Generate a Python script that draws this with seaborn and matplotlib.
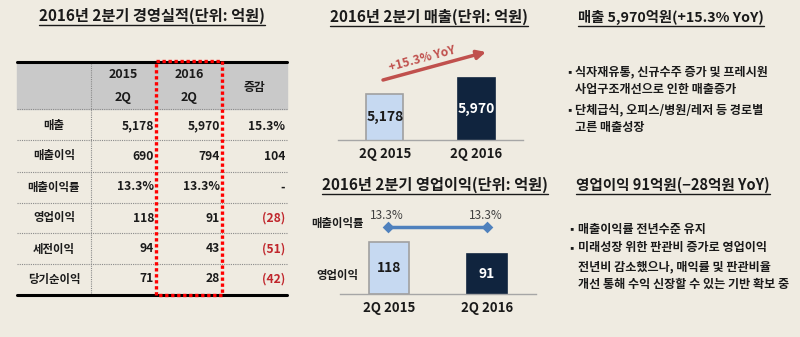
import matplotlib
matplotlib.use('Agg')
import matplotlib.pyplot as plt
from matplotlib.patches import Rectangle
import seaborn as sns
import pandas as pd

sns.set_theme(style='white')
plt.rcParams['font.family'] = ['Noto Sans CJK KR', 'DejaVu Sans']

# ---------------- data ----------------
periods = ['2Q 2015', '2Q 2016']
sales = [5178, 5970]
op_profit = [118, 91]
gross_margin = [13.3, 13.3]
sales_growth = '+15.3% YoY'

table_header = ['2015\n2Q', '2016\n2Q', '증감']
row_labels = ['매출', '매출이익', '매출이익률', '영업이익', '세전이익', '당기순이익']
col_2015 = ['5,178', '690', '13.3%', '118', '94', '71']
col_2016 = ['5,970', '794', '13.3%', '91', '43', '28']
col_change = ['15.3%', '104', '-', '(28)', '(51)', '(42)']

titles = ['2016년 2분기 경영실적(단위: 억원)', '2016년 2분기 매출(단위: 억원)',
          '2016년 2분기 영업이익(단위: 억원)', '매출 5,970억원(+15.3% YoY)',
          '영업이익 91억원(−28억원 YoY)']
bullets_sales = [['식자재유통, 신규수주 증가 및 프레시원', '사업구조개선으로 인한 매출증가'],
                 ['단체급식, 오피스/병원/레저 등 경로별', '고른 매출성장']]
bullets_op = [['매출이익률 전년수준 유지'],
              ['미래성장 위한 판관비 증가로 영업이익', '전년비 감소했으나, 매익률 및 판관비율',
               '개선 통해 수익 신장할 수 있는 기반 확보 중']]

# ---------------- style ----------------
BG = '#EFEBE1'
LIGHT = '#C6D9F1'
DARK = '#10243E'
RED = '#C0504D'
DRED = '#C0262C'
BLUE = '#4F81BD'
TXT = '#1A1A1A'
W, H = 800, 337

fig = plt.figure(figsize=(8, 3.37), dpi=100, facecolor=BG)
bg = fig.add_axes([0, 0, 1, 1], zorder=0)
bg.set_xlim(0, W)
bg.set_ylim(H, 0)
bg.axis('off')


def fax(x0, y0, x1, y1):
    a = fig.add_axes([x0 / W, 1 - y1 / H, (x1 - x0) / W, (y1 - y0) / H], zorder=2)
    a.set_facecolor('none')
    return a


# ---------------- titles ----------------
title_pos = [(152, 16), (429, 17), (435, 185), (671, 17), (673, 185)]
title_size = [11, 11, 11, 10.3, 10.5]
title_objs = []
for s, (x, y), fs in zip(titles, title_pos, title_size):
    t = bg.text(x, y, s, ha='center', va='center', fontsize=fs, weight='bold', color=TXT)
    title_objs.append((t, y))

# ---------------- table ----------------
tx0, tx1 = 17, 287
bg.add_patch(Rectangle((tx0, 62), tx1 - tx0, 47, color='#C9C9C9', zorder=1))
bg.plot([tx0, tx1], [62, 62], color='black', lw=2.2, zorder=3)
bg.plot([tx0, tx1], [295, 295], color='black', lw=2.2, zorder=3)
for yy in [109, 140, 172, 203, 233, 264]:
    bg.plot([tx0, tx1], [yy, yy], color='#8A8A8A', lw=0.8, ls=(0, (1, 1)), zorder=2)
bg.plot([91, 91], [63, 294], color='#8A8A8A', lw=0.8, ls=(0, (1, 1)), zorder=2)

bg.text(123, 86, table_header[0], ha='center', va='center', fontsize=9, weight='bold',
        color=TXT, linespacing=2.0, zorder=4)
bg.text(189, 86, table_header[1], ha='center', va='center', fontsize=9, weight='bold',
        color=TXT, linespacing=2.0, zorder=4)
bg.text(254, 87, table_header[2], ha='center', va='center', fontsize=8.5, weight='bold',
        color=TXT, zorder=4)

row_y = [126, 156, 187, 218, 249, 279]
for lab, a, b, c, y in zip(row_labels, col_2015, col_2016, col_change, row_y):
    bg.text(54, y, lab, ha='center', va='center', fontsize=8.2, weight='bold', color=TXT, zorder=4)
    bg.text(154, y, a, ha='right', va='center', fontsize=8.7, weight='bold', color=TXT, zorder=4)
    bg.text(220, y, b, ha='right', va='center', fontsize=8.7, weight='bold', color=TXT, zorder=4)
    col = DRED if c.startswith('(') else TXT
    bg.text(285, y, c, ha='right', va='center', fontsize=8.7, weight='bold', color=col, zorder=4)

bg.add_patch(Rectangle((155.5, 61), 66.5, 234, fill=False, edgecolor='#FF0000', lw=2.4,
                       ls=(0, (1, 0.8)), zorder=5))

# ---------------- sales chart ----------------
ax_s = fax(338, 70, 523, 140)
df_s = pd.DataFrame({'period': periods, 'sales': sales})
sns.barplot(data=df_s, x='period', y='sales', hue='period', palette=[LIGHT, DARK],
            width=0.41, saturation=1, legend=False, ax=ax_s)
for p, ec in zip(ax_s.patches, ['#A0A0A0', DARK]):
    p.set_edgecolor(ec)
    p.set_linewidth(1.2)
s_lo = 2900
ax_s.set_ylim(s_lo, s_lo + 70 * (5970 - s_lo) / 62)
ax_s.set_xlim(-0.51, 1.51)
for i, (v, c) in enumerate(zip(sales, [TXT, 'white'])):
    ax_s.text(i, (s_lo + v) / 2, f'{v:,}', ha='center', va='center', fontsize=10,
              weight='bold', color=c)

# ---------------- operating profit chart ----------------
ax_o = fax(340, 234, 536, 294)
df_o = pd.DataFrame({'period': periods, 'op': op_profit})
sns.barplot(data=df_o, x='period', y='op', hue='period', palette=[LIGHT, DARK],
            width=0.4, saturation=1, legend=False, ax=ax_o)
for p, ec in zip(ax_o.patches, ['#A0A0A0', DARK]):
    p.set_edgecolor(ec)
    p.set_linewidth(1.2)
ax_o.set_ylim(0, 60 * 118 / 52.5)
ax_o.set_xlim(-0.49, 1.5)
for i, (v, c) in enumerate(zip(op_profit, [TXT, 'white'])):
    ax_o.text(i, v / 2, f'{v:,}', ha='center', va='center', fontsize=10,
              weight='bold', color=c)

for a in (ax_s, ax_o):
    for sp in ['top', 'left', 'right']:
        a.spines[sp].set_visible(False)
    a.spines['bottom'].set_color('#A6A6A6')
    a.spines['bottom'].set_linewidth(1)
    a.set_xlabel('')
    a.set_ylabel('')
    a.set_yticks([])
    a.tick_params(axis='x', which='major', length=0, pad=5, labelsize=9.5, colors=TXT)
    for lab in a.get_xticklabels():
        lab.set_fontweight('bold')
    a.set_xticks([-0.5, 0.5, 1.5], minor=True)
    a.tick_params(axis='x', which='minor', length=4, width=1, color='#A6A6A6', direction='out')

# ---------------- gross margin line ----------------
ax_m = fax(340, 215, 536, 239)
sns.pointplot(x=periods, y=gross_margin, ax=ax_m, color=BLUE, markers='D',
              markersize=4, linewidth=2.5, errorbar=None)
ax_m.set_ylim(12.3, 14.3)
ax_m.set_xlim(-0.49, 1.5)
ax_m.axis('off')
for i, v in enumerate(gross_margin):
    ax_m.annotate(f'{v:.1f}%', (i, v), xytext=(-1, 8.5), textcoords='offset points',
                  ha='center', va='center', fontsize=8.5, color='#404040')

bg.text(337, 223, '매출이익률', ha='center', va='center', fontsize=8.2, weight='bold', color=TXT)
bg.text(337, 276, '영업이익', ha='center', va='center', fontsize=8.2, weight='bold', color=TXT)

# ---------------- growth arrow ----------------
bg.annotate('', xy=(486, 52), xytext=(383, 80),
            arrowprops=dict(arrowstyle='-|>', color=RED, lw=2.5, mutation_scale=13,
                            shrinkA=0, shrinkB=0))
bg.text(422, 59, sales_growth, ha='center', va='center', rotation=15, fontsize=8.7,
        weight='bold', color=RED)

# ---------------- bullets ----------------
def bullets(groups, ys, bx, tx):
    k = 0
    for g in groups:
        bg.text(bx, ys[k], '▪', ha='center', va='center', fontsize=7.5, color=TXT)
        for line in g:
            bg.text(tx, ys[k], line, ha='left', va='center', fontsize=8.7, weight='bold', color=TXT)
            k += 1

bullets(bullets_sales, [72, 89, 110, 128], 569, 575)
bullets(bullets_op, [229, 248, 267, 284], 571, 578)

# ---------------- title underlines ----------------
fig.canvas.draw()
r = fig.canvas.get_renderer()
inv = bg.transData.inverted()
for t, y in title_objs:
    bb = t.get_window_extent(r)
    (x0, _), (x1, _) = inv.transform([[bb.x0, bb.y0], [bb.x1, bb.y1]])
    bg.plot([x0, x1], [y + 8.5, y + 8.5], color=TXT, lw=1.0)

fig.savefig('out.png', dpi=100, facecolor=BG)
